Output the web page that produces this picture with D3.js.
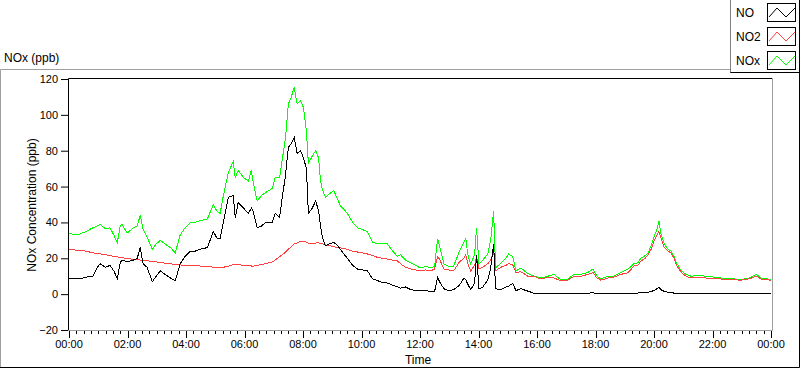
<!DOCTYPE html>
<html>
<head>
<meta charset="utf-8">
<script src="https://cdn.jsdelivr.net/npm/d3@7"></script>
<style>
  html, body { margin: 0; padding: 0; background: #fff; }
  svg { display: block; font-family: "Liberation Sans", Arial, sans-serif; }
</style>
</head>
<body>
<div id="chart"></div>
<script>
// minutes since midnight
const minutes = [0, 12, 23, 35, 49, 58, 64, 74, 84, 92, 99, 105, 109, 119, 132, 140, 146, 152, 160, 171,
  179, 187, 197, 208, 218, 228, 238, 249, 259, 269, 284, 296, 304, 310, 316, 327, 337, 341, 347, 358,
  368, 374, 378, 386, 395, 403, 417, 423, 432, 438, 444, 450, 456, 462, 468, 475, 481, 487, 491, 499,
  506, 512, 516, 520, 526, 534, 543, 551, 557, 565, 571, 582, 592, 602, 612, 623, 633, 643, 653, 664,
  674, 680, 690, 701, 711, 721, 732, 742, 750, 756, 760, 769, 779, 789, 801, 810, 814, 818, 824, 832,
  836, 841, 849, 859, 865, 871, 875, 886, 896, 902, 910, 917, 927, 941, 954, 968, 982, 995, 1009, 1023,
  1036, 1050, 1064, 1075, 1083, 1091, 1106, 1118, 1132, 1147, 1159, 1167, 1173, 1182, 1188, 1194, 1200, 1206, 1210, 1214,
  1221, 1229, 1235, 1241, 1245, 1256, 1266, 1276, 1291, 1307, 1323, 1338, 1352, 1364, 1379, 1395, 1410, 1420, 1432, 1440];

const noVals = [8.5, 9, 8.5, 9.5, 10, 15, 17, 15, 16, 13, 8.5, 17.5, 19, 18, 19, 20, 26, 17, 15, 7,
  10, 13, 11, 9, 7.5, 17, 21, 24, 24, 25, 26, 35, 31, 31, 39, 54, 55, 42.5, 51, 48,
  45, 48, 46, 37, 38, 40, 40, 45, 43, 55, 66, 82, 84, 87.5, 78.5, 80, 76, 70, 45, 48,
  52, 46.5, 38, 31.4, 27, 28, 29, 27, 25, 22, 20, 16, 14, 13.5, 13, 8.5, 7.5, 6.5, 6.2, 5,
  4, 3.4, 4, 2.5, 2, 1.8, 2, 1.5, 1.5, 9.5, 7, 3, 2, 2.5, 5, 9, 8, 5.6, 2.5, 6,
  22, 3, 4, 8, 14.6, 28, 3, 2.5, 4, 4.5, 6, 2, 3, 1.7, 0.5, 0.5, 0.5, 0.4, 0.3, 0.3,
  0.5, 0.3, 0.5, 0.8, 0.3, 0.2, 0.3, 0.3, 0.4, 0.5, 0.4, 0.6, 0.8, 0.9, 1, 1.5, 2, 3, 4, 2.5,
  1.5, 1, 0.8, 0.6, 0.5, 0.4, 0.3, 0.3, 0.3, 0.3, 0.3, 0.2, 0.3, 0.2, 0.2, 0.3, 0.5, 0.2, 0.2, 0.2];

const no2Vals = [25, 24.6, 24.3, 24, 23, 22.8, 22.5, 22, 21.5, 21, 20.8, 20.5, 20.3, 19.8, 19.5, 19.2, 19, 18.8, 18.6, 18.3,
  18, 17.6, 17.3, 17, 16.5, 16.3, 16, 16, 15.8, 15.7, 15.5, 15, 14.8, 14.6, 15, 15.5, 16.5, 16.6, 16.5, 16,
  15.8, 15.7, 15.6, 16, 16.5, 17, 18, 19, 21, 22, 23.5, 25, 26.5, 28, 28.5, 29.5, 29.5, 29, 28.5, 28.2,
  28.5, 28.6, 28.3, 28, 27.5, 27, 26.5, 26, 25.8, 25.5, 25, 24, 23.5, 23, 22.4, 21.5, 20.5, 20, 19.6, 19,
  18.5, 17, 15, 14, 13.5, 13, 13.5, 13, 14, 21, 19.5, 14, 13.5, 13, 18, 20, 22, 17, 13, 16,
  21, 14, 15, 17, 19, 24, 13, 15, 16, 17, 16.5, 12, 12.5, 10, 10, 8.4, 9.5, 9, 7.5, 7.8,
  10, 10, 11, 12, 9, 7.8, 9, 9.5, 11, 12, 15.7, 16, 18.5, 20, 22, 25, 29.7, 33, 35, 31.4,
  26, 24, 23, 20, 16.8, 12, 10, 9, 9.5, 9, 9, 8.4, 8.4, 8, 7.8, 8.5, 10, 8.4, 8, 7.8];

const noxVals = [34, 33, 33.6, 35, 37, 38, 39, 36.5, 37, 33, 28.6, 38, 39, 34, 37, 38, 44, 36, 32, 25,
  28, 30, 28, 26, 23, 33, 37, 40, 40, 41, 42, 50, 46, 45, 54, 68, 74, 65, 69, 65,
  63, 69, 62, 52, 55, 56.6, 59, 65, 65, 76, 87, 106, 110, 115.4, 106, 108, 104, 91, 73, 77,
  80, 76, 63, 58, 54, 56, 57.7, 53, 49, 47, 45, 40, 37, 36, 35, 29, 28, 28, 28, 24,
  21, 22, 19, 17.5, 16, 14.6, 15.5, 14.6, 15.5, 30.8, 27, 16.8, 15.5, 15.7, 24, 29, 30.8, 22, 16.8, 22,
  37, 16.8, 19, 22.4, 30, 46.5, 14.6, 17.4, 20, 22.4, 21, 13, 14.6, 11.5, 10, 9, 10, 11, 8, 8.4,
  11, 11, 12, 14, 10, 8.5, 10, 10, 12, 14, 17, 17.5, 20, 21.5, 23, 27, 32, 36, 41, 34,
  28, 25, 24, 21, 18, 13, 11, 10, 10.5, 10, 9.5, 9, 9, 8.5, 8.2, 9, 11, 9, 8.5, 8];

const seriesNames = ["NO", "NO2", "NOx"];
const seriesColors = ["#000000", "#ff4040", "#00ff00"];
const yTicks = [-20, 0, 20, 40, 60, 80, 100, 120];
const xTickLabels = ["00:00", "02:00", "04:00", "06:00", "08:00", "10:00", "12:00",
  "14:00", "16:00", "18:00", "20:00", "22:00", "00:00"];

const width = 800, height = 369;
const svg = d3.select("#chart").append("svg")
  .attr("width", width)
  .attr("height", height);

// outer sunken frame of the graph
svg.append("path")
  .attr("d", "M0.5,367 V69.5 H730")
  .attr("fill", "none").attr("stroke", "#a0a0a0");
svg.append("path")
  .attr("d", "M799.5,72 V367.5 H0")
  .attr("fill", "none").attr("stroke", "#000");

svg.append("text")
  .attr("x", 4).attr("y", 62)
  .attr("font-size", "12px")
  .text("NOx (ppb)");

const x = d3.scaleLinear().domain([0, 1440]).range([69, 771]);
const y = d3.scaleLinear().domain([-20, 120]).range([330, 79]);

// plot frame
svg.append("path")
  .attr("d", "M68.5,330 V78.5 H772")
  .attr("fill", "none").attr("stroke", "#000");
svg.append("path")
  .attr("d", "M772.5,78 V330.5 H68")
  .attr("fill", "none").attr("stroke", "#a0a0a0");

// y axis
const yAxis = svg.append("g")
  .attr("transform", "translate(68,0)")
  .call(d3.axisLeft(y).tickValues(yTicks).tickSize(7).tickPadding(3).tickFormat(d3.format("d")));
yAxis.select(".domain").remove();
yAxis.selectAll("text").attr("font-size", "11px").attr("font-family", "Liberation Sans, Arial, sans-serif").attr("fill", "#000");

// x axis: minor ticks every 15 min, labels every 2 h
const minorTicks = d3.range(0, 1441, 15);
svg.append("g")
  .selectAll("line")
  .data(minorTicks)
  .join("line")
  .attr("x1", d => Math.round(x(d)) + 0.5)
  .attr("x2", d => Math.round(x(d)) + 0.5)
  .attr("y1", 331)
  .attr("y2", d => d % 120 === 0 ? 338 : 334)
  .attr("stroke", "#000");

svg.append("g")
  .selectAll("text")
  .data(xTickLabels)
  .join("text")
  .attr("x", (d, i) => x(i * 120))
  .attr("y", 348)
  .attr("text-anchor", "middle")
  .attr("font-size", "11px")
  .text(d => d);

svg.append("text")
  .attr("x", 418).attr("y", 364)
  .attr("text-anchor", "middle")
  .attr("font-size", "12px")
  .text("Time");

svg.append("text")
  .attr("transform", "translate(36,205) rotate(-90)")
  .attr("text-anchor", "middle")
  .attr("font-size", "12px")
  .text("NOx Concentration (ppb)");

// series, NOx drawn first so NO sits on top
const series = [
  { name: "NOx", values: noxVals, color: seriesColors[2] },
  { name: "NO2", values: no2Vals, color: seriesColors[1] },
  { name: "NO", values: noVals, color: seriesColors[0] }
];

const line = d3.line()
  .x(d => x(d[0]))
  .y(d => y(d[1]));

svg.append("g")
  .selectAll("path")
  .data(series)
  .join("path")
  .attr("d", s => line(minutes.map((m, i) => [m, s.values[i]])))
  .attr("fill", "none")
  .attr("stroke", s => s.color)
  .attr("stroke-width", 1)
  .attr("shape-rendering", "crispEdges");

// legend
const legend = svg.append("g");
legend.append("rect")
  .attr("x", 730.5).attr("y", -1)
  .attr("width", 68).attr("height", 73.5)
  .attr("fill", "#fff").attr("stroke", "none");
legend.append("path")
  .attr("d", "M730.5,0 V72.5 H799.5 V0")
  .attr("fill", "none").attr("stroke", "#000");
legend.append("path")
  .attr("d", "M730.5,0 V72")
  .attr("fill", "none").attr("stroke", "#808080");

const entries = legend.selectAll("g.entry")
  .data(seriesNames)
  .join("g")
  .attr("class", "entry")
  .attr("transform", (d, i) => `translate(0,${i * 24})`);

entries.append("text")
  .attr("x", 736).attr("y", 17)
  .attr("font-size", "12px")
  .text(d => d);

entries.append("rect")
  .attr("x", 767.5).attr("y", 3.5)
  .attr("width", 28).attr("height", 18)
  .attr("fill", "#fff").attr("stroke", "#000");

entries.append("path")
  .attr("d", "M769,17 L777,8 L786,17 L795,8")
  .attr("fill", "none")
  .attr("stroke", (d, i) => seriesColors[i]);
</script>
</body>
</html>
